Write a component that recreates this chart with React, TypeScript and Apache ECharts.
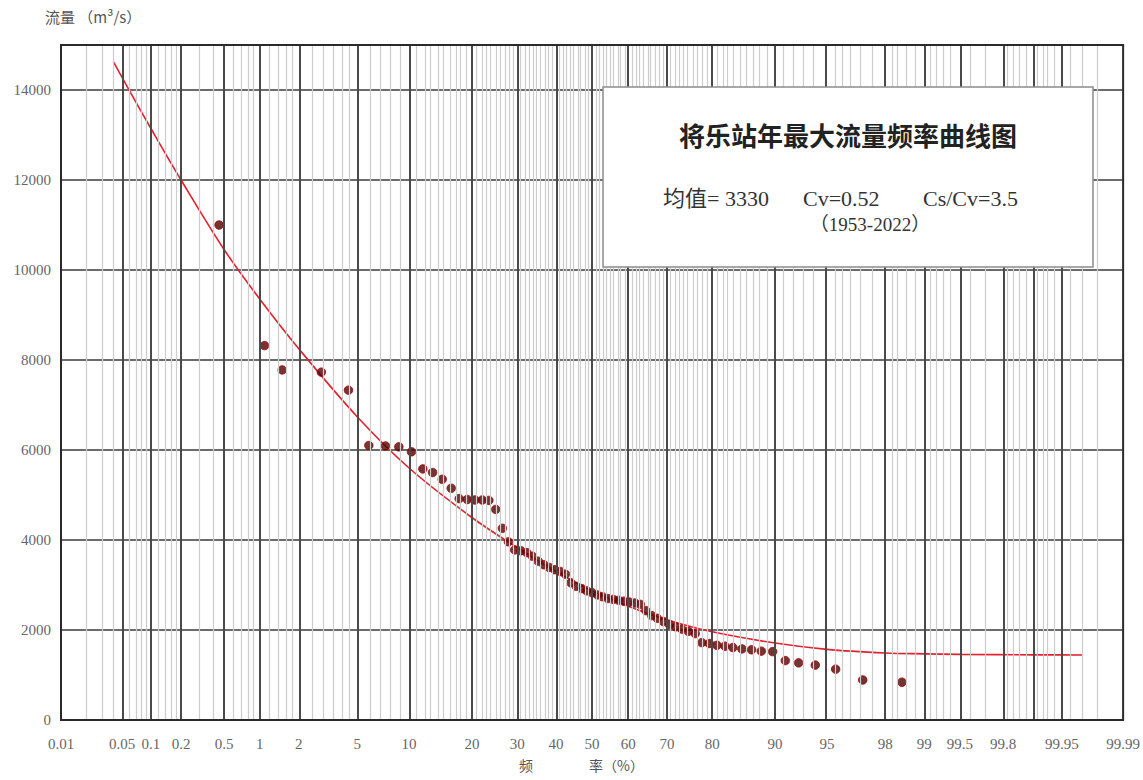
import React, { useEffect, useRef } from "react";
import * as echarts from "echarts";

// ---- data ----
const xTickLabels = ["0.01", "0.05", "0.1", "0.2", "0.5", "1", "2", "5", "10", "20", "30", "40", "50", "60", "70", "80", "90", "95", "98", "99", "99.5", "99.8", "99.95", "99.99"];
const majorGridFreq = [0.05, 0.1, 0.2, 0.5, 1, 2, 5, 10, 20, 30, 40, 50, 60, 70, 80, 90, 95, 98, 99, 99.5, 99.8, 99.9, 99.95];
const minorGridFreq = [
  0.02, 0.03, 0.04, 0.06, 0.07, 0.08, 0.09, 0.12, 0.14, 0.16, 0.18, 0.3, 0.4, 0.6, 0.7, 0.8, 0.9,
  1.2, 1.4, 1.6, 1.8, 2.5, 3, 3.5, 4, 4.5, 6, 7, 8, 9,
  11, 12, 13, 14, 15, 16, 17, 18, 19, 21, 22, 23, 24, 25, 26, 27, 28, 29,
  31, 32, 33, 34, 35, 36, 37, 38, 39, 41, 42, 43, 44, 45, 46, 47, 48, 49,
  51, 52, 53, 54, 55, 56, 57, 58, 59, 61, 62, 63, 64, 65, 66, 67, 68, 69,
  71, 72, 73, 74, 75, 76, 77, 78, 79, 81, 82, 83, 84, 85, 86, 87, 88, 89,
  91, 92, 93, 94, 95.5, 96, 96.5, 97, 97.5, 98.2, 98.4, 98.6, 98.8,
  99.1, 99.2, 99.3, 99.4, 99.6, 99.7, 99.82, 99.84, 99.86, 99.88, 99.91, 99.92, 99.93, 99.94, 99.96, 99.97, 99.98,
];
const yTicks = [0, 2000, 4000, 6000, 8000, 10000, 12000, 14000];

const obsFreq = [
  0.45, 1.09, 1.5, 2.9, 4.4, 5.9, 7.4, 8.8, 10.3, 11.8, 13.2, 14.7, 16.2, 17.6, 19.1, 20.6, 22.1, 23.5, 25.0, 26.5,
  27.9, 29.4, 30.9, 32.4, 33.8, 35.3, 36.8, 38.2, 39.7, 41.2, 42.6, 44.1, 45.6, 47.1, 48.5, 50.0, 51.5, 52.9, 54.4, 55.9,
  57.4, 58.8, 60.3, 61.8, 63.2, 64.7, 66.2, 67.6, 69.1, 70.6, 72.1, 73.5, 75.0, 76.5, 77.9, 79.4, 80.9, 82.4, 83.8, 85.3,
  86.8, 88.2, 89.7, 91.2, 92.6, 94.1, 95.6, 97.1, 98.5,
];
const obsFlow = [
  11000, 8320, 7780, 7730, 7330, 6100, 6090, 6070, 5960, 5580, 5500, 5350, 5150, 4920, 4900, 4890, 4890, 4880, 4680, 4260,
  3960, 3780, 3760, 3720, 3640, 3530, 3450, 3390, 3340, 3300, 3240, 3050, 2970, 2920, 2870, 2830, 2780, 2740, 2700, 2680,
  2660, 2640, 2620, 2600, 2570, 2430, 2320, 2260, 2190, 2120, 2070, 2020, 1970, 1920, 1720, 1700, 1660, 1640, 1610, 1580,
  1560, 1530, 1520, 1320, 1270, 1220, 1130, 890, 840,
];

const curveFreq = [0.04, 0.06, 0.1, 0.2, 0.5, 1, 2, 5, 10, 20, 30, 40, 50, 60, 70, 80, 90, 95, 98, 99, 99.5, 99.9, 99.97];
const curveFlow = [14630, 13980, 13150, 12000, 10450, 9350, 8250, 6740, 5600, 4500, 3830, 3300, 2870, 2530, 2230, 1960, 1710, 1570, 1490, 1470, 1458, 1448, 1444];

const titleText = "将乐站年最大流量频率曲线图";
const statMean = "均值= 3330";
const statCv = "Cv=0.52";
const statCs = "Cs/Cv=3.5";
const periodText = "（1953-2022）";
const yName = "流量 （m³/s）";
const xName = "频　　　　率（%）";

// ---- probability-paper transform (inverse normal CDF, Acklam) ----
function normInv(p: number): number {
  const a = [-3.969683028665376e1, 2.209460984245205e2, -2.759285104469687e2, 1.38357751867269e2, -3.066479806614716e1, 2.506628277459239];
  const b = [-5.447609879822406e1, 1.615858368580409e2, -1.556989798598866e2, 6.680131188771972e1, -1.328068155288572e1];
  const c = [-7.784894002430293e-3, -3.223964580411365e-1, -2.400758277161838, -2.549732539343734, 4.374664141464968, 2.938163982698783];
  const d = [7.784695709041462e-3, 3.224671290700398e-1, 2.445134137142996, 3.754408661907416];
  const pl = 0.02425;
  if (p < pl) {
    const q = Math.sqrt(-2 * Math.log(p));
    return (((((c[0] * q + c[1]) * q + c[2]) * q + c[3]) * q + c[4]) * q + c[5]) / ((((d[0] * q + d[1]) * q + d[2]) * q + d[3]) * q + 1);
  }
  if (p <= 1 - pl) {
    const q = p - 0.5;
    const r = q * q;
    return ((((((a[0] * r + a[1]) * r + a[2]) * r + a[3]) * r + a[4]) * r + a[5]) * q) / (((((b[0] * r + b[1]) * r + b[2]) * r + b[3]) * r + b[4]) * r + 1);
  }
  const q = Math.sqrt(-2 * Math.log(1 - p));
  return -(((((c[0] * q + c[1]) * q + c[2]) * q + c[3]) * q + c[4]) * q + c[5]) / ((((d[0] * q + d[1]) * q + d[2]) * q + d[3]) * q + 1);
}
const zOf = (pct: number) => normInv(pct / 100);

export default function App() {
  const ref = useRef<HTMLDivElement>(null);
  useEffect(() => {
    document.body.style.margin = "0";
    if (!ref.current) return;
    const chart = echarts.init(ref.current, null, { renderer: "svg" });
    const labelZ = xTickLabels.map((l) => zOf(parseFloat(l)));
    const xMin = labelZ[0];
    const xMax = labelZ[labelZ.length - 1];
    const serif = "'Liberation Serif', 'Noto Sans CJK SC', serif";
    const cjk = "'Noto Sans CJK SC', sans-serif";

    const gridLines = [
      ...minorGridFreq.map((p) => ({ xAxis: zOf(p), lineStyle: { color: "#cdcdcd", width: 1.2, type: "solid" } })),
      ...majorGridFreq.map((p) => ({ xAxis: zOf(p), lineStyle: { color: "#4a4a4a", width: 2, type: "solid" } })),
    ];

    chart.setOption({
      animation: false,
      backgroundColor: "#ffffff",
      grid: { left: 61, right: 16, top: 45, bottom: 60, show: true, borderColor: "#2a2a2a", borderWidth: 2, backgroundColor: "transparent", z: 10 },
      xAxis: {
        type: "value",
        min: xMin,
        max: xMax,
        axisLine: { show: false },
        axisTick: { show: false },
        splitLine: { show: false },
        axisLabel: {
          customValues: labelZ,
          color: "#666",
          fontFamily: serif,
          fontSize: 15,
          margin: 16,
          hideOverlap: false,
          formatter: (v: number) => {
            const i = labelZ.findIndex((z) => Math.abs(z - v) < 1e-6);
            return i >= 0 ? xTickLabels[i] : "";
          },
        },
      },
      yAxis: {
        type: "value",
        min: 0,
        max: 15000,
        interval: 2000,
        axisLine: { show: false },
        axisTick: { show: false },
        splitLine: { show: true, lineStyle: { color: "#3a3a3a", width: 1.5 } },
        axisLabel: {
          customValues: yTicks,
          color: "#666",
          fontFamily: serif,
          fontSize: 15,
          margin: 10,
          formatter: (v: number) => String(v),
        },
      },
      series: [
        {
          type: "line",
          data: [],
          z: 1,
          silent: true,
          markLine: {
            silent: true,
            symbol: ["none", "none"],
            label: { show: false },
            emphasis: { disabled: true },
            animation: false,
            data: gridLines,
          },
        },
        {
          type: "line",
          z: 3,
          data: curveFreq.map((p, i) => [zOf(p), curveFlow[i]]),
          smooth: 0.35,
          showSymbol: false,
          lineStyle: { color: "#e3202c", width: 1.6 },
          silent: true,
        },
        {
          type: "scatter",
          z: 4,
          data: obsFreq.map((p, i) => [zOf(p), obsFlow[i]]),
          symbol: "circle",
          symbolSize: 8.5,
          itemStyle: { color: "#520000", borderColor: "#a00000", borderWidth: 1 },
          silent: true,
        },
      ],
      graphic: [
        { type: "rect", z: 100, shape: { x: 603, y: 87, width: 490, height: 180 }, style: { fill: "#ffffff", stroke: "#8c8c8c", lineWidth: 1.5 } },
        { type: "text", z: 101, x: 848, y: 134, style: { text: titleText, fontSize: 26, fontWeight: "bold", fontFamily: cjk, fill: "#222", align: "center", verticalAlign: "middle" } },
        { type: "text", z: 101, x: 663, y: 198, style: { text: statMean, fontSize: 22, fontFamily: serif, fill: "#333", align: "left", verticalAlign: "middle" } },
        { type: "text", z: 101, x: 803, y: 198, style: { text: statCv, fontSize: 22, fontFamily: serif, fill: "#333", align: "left", verticalAlign: "middle" } },
        { type: "text", z: 101, x: 923, y: 198, style: { text: statCs, fontSize: 22, fontFamily: serif, fill: "#333", align: "left", verticalAlign: "middle" } },
        { type: "text", z: 101, x: 870, y: 224, style: { text: periodText, fontSize: 19, fontFamily: serif, fill: "#333", align: "center", verticalAlign: "middle" } },
        { type: "text", z: 101, x: 45, y: 16, style: { text: yName, fontSize: 15, fontFamily: cjk, fill: "#555", align: "left", verticalAlign: "middle" } },
        { type: "text", z: 101, x: 519, y: 765, style: { text: xName, fontSize: 14, fontFamily: cjk, fill: "#555", align: "left", verticalAlign: "middle" } },
      ],
    });
    return () => chart.dispose();
  }, []);
  return <div ref={ref} style={{ width: 1143, height: 780 }} />;
}
